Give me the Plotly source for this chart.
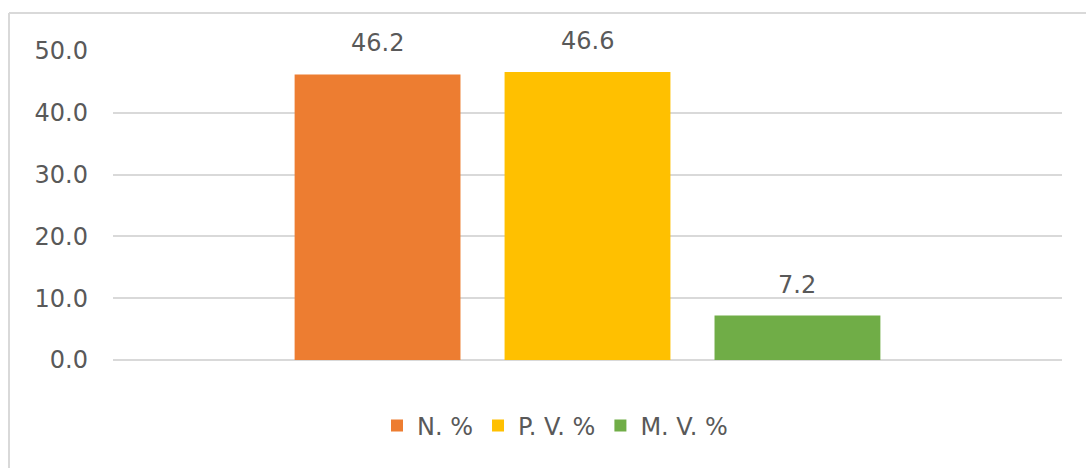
import plotly.graph_objects as go

categories = ["N. %", "P. V. %", "M. V. %"]
values = [46.2, 46.6, 7.2]
colors = ["#ED7D31", "#FFC000", "#70AD47"]
y_ticks = [0, 10, 20, 30, 40, 50]

W, H = 1086, 468
ML, MR, MT, MB = 113, 24, 51, 108
PW, PH = W - ML - MR, H - MT - MB
FONT = "DejaVu Sans"
FS = 24
TXT = "#595959"

fig = go.Figure()
for c, v, col in zip(categories, values, colors):
    fig.add_trace(go.Bar(x=[c], y=[v], name=c, marker=dict(color=col, line=dict(width=0)),
                         hoverinfo="skip"))
    fig.add_annotation(x=c, y=v, text=f"{v:.1f}", showarrow=False, yanchor="bottom",
                       yshift=15, font=dict(family=FONT, size=FS, color=TXT))

def px_x(p):
    return (p - ML) / PW

def px_y(p):
    return (H - MB - p) / PH

# chart-area frame (cropped on right and bottom in the reference)
fig.add_shape(type="line", xref="paper", yref="paper", x0=px_x(9), x1=px_x(9),
              y0=px_y(13), y1=px_y(480), line=dict(color="#d9d9d9", width=2))
fig.add_shape(type="line", xref="paper", yref="paper", x0=px_x(9), x1=px_x(1100),
              y0=px_y(13), y1=px_y(13), line=dict(color="#d9d9d9", width=2))

fig.update_layout(
    width=W, height=H,
    margin=dict(l=ML, r=MR, t=MT, b=MB, autoexpand=False),
    paper_bgcolor="white", plot_bgcolor="white",
    barmode="overlay", bargap=0.21,
    font=dict(family=FONT, size=FS, color=TXT),
    showlegend=True,
    legend=dict(orientation="h", x=px_x(555), xanchor="center", y=px_y(426), yanchor="middle",
                font=dict(family=FONT, size=FS, color=TXT), itemwidth=30, traceorder="normal"),
)
fig.update_xaxes(range=[-1.26, 3.26], showticklabels=False, showgrid=False, zeroline=False,
                 showline=False, ticks="")
fig.update_yaxes(range=[0, 50], tickvals=y_ticks, tickformat=".1f", showgrid=True,
                 gridcolor="#d9d9d9", gridwidth=1.5, zeroline=True, zerolinecolor="#d9d9d9",
                 zerolinewidth=1.5, showline=False, ticks="", ticklabelstandoff=24,
                 tickfont=dict(family=FONT, size=FS, color=TXT))

fig.write_html("out.html", config={"displayModeBar": False},
               post_script="document.body.style.margin='0';document.body.style.overflow='hidden';")
